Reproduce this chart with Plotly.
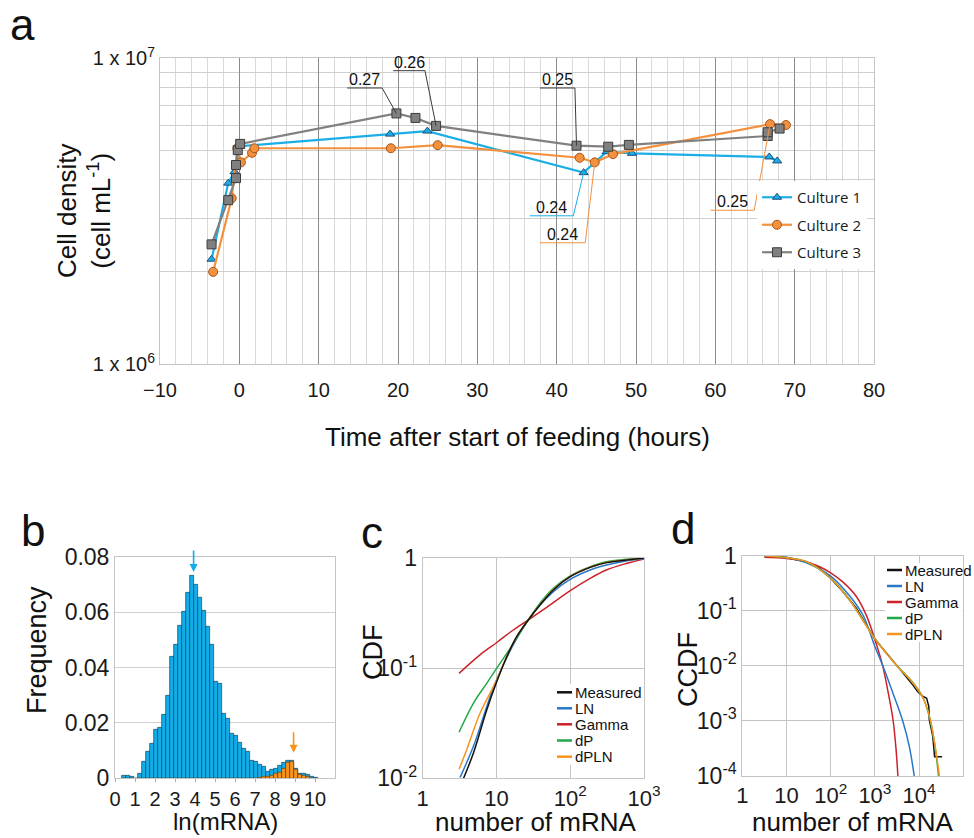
import numpy as np
import plotly.graph_objects as go

FONT = "Liberation Sans"
W, H = 974, 838

# ---------------- Panel a data ----------------
c1_t = [-3.5, -1.4, -0.6, 0.1, 19.0, 23.7, 43.4, 46.3, 49.5, 66.8, 67.8]
c1_v = [2.20e6, 3.90e6, 4.25e6, 5.15e6, 5.64e6, 5.77e6, 4.22e6, 4.94e6, 4.88e6, 4.75e6, 4.61e6]

c2_t = [-3.3, -0.96, -0.25, 0.2, 1.6, 1.9, 19.1, 25.0, 42.9, 44.8, 47.1, 66.9, 68.9]
c2_v = [2.00e6, 3.48e6, 5.07e6, 4.56e6, 4.90e6, 5.07e6, 5.07e6, 5.19e6, 4.72e6, 4.56e6, 4.85e6, 6.08e6, 6.04e6]

c3_t = [-3.5, -1.4, -0.42, -0.42, -0.2, 0.1, 19.8, 22.2, 24.8, 42.5, 46.5, 49.1, 66.6, 66.6, 68.1]
c3_v = [2.46e6, 3.43e6, 4.05e6, 4.47e6, 5.00e6, 5.24e6, 6.59e6, 6.37e6, 6.00e6, 5.17e6, 5.13e6, 5.20e6, 5.56e6, 5.72e6, 5.88e6]

# callouts: label, series, point index, underline left t, underline right t, underline value, colour
callouts = [
    ("0.27", "c3", 6, 13.6, 18.0, 7.98e6, "#3a3a3a"),
    ("0.26", "c3", 8, 19.4, 23.4, 9.09e6, "#3a3a3a"),
    ("0.25", "c3", 9, 37.9, 42.3, 7.98e6, "#3a3a3a"),
    ("0.24", "c1", 6, 36.6, 42.1, 3.05e6, "#1BAEE6"),
    ("0.24", "c2", 9, 37.9, 43.6, 2.49e6, "#F4913E"),
    ("0.25", "c2", 11, 59.4, 64.9, 3.18e6, "#F4913E"),
]

# ---------------- Panel b data ----------------
ln_bins = [0.47, 0.67, 0.87, 1.07, 1.27, 1.47, 1.67, 1.87, 2.07, 2.27,
           2.47, 2.67, 2.87, 3.07, 3.27, 3.47, 3.67, 3.87, 4.07, 4.27,
           4.47, 4.67, 4.87, 5.07, 5.27, 5.47, 5.67, 5.87, 6.07, 6.27,
           6.47, 6.67, 6.87, 7.07, 7.27, 7.47, 7.67, 7.87, 8.07, 8.27,
           8.47, 8.67, 8.87, 9.07, 9.27, 9.47, 9.67, 9.87, 10.07]
freq_all = [0.0011, 0.0010, 0.0006, 0.0, 0.0015, 0.0061, 0.0096, 0.0124, 0.0175, 0.0184,
            0.0228, 0.0300, 0.0439, 0.0481, 0.0550, 0.0601, 0.0669, 0.0731, 0.0700, 0.0651,
            0.0606, 0.0548, 0.0482, 0.0348, 0.0342, 0.0234, 0.0214, 0.0160, 0.0155, 0.0130,
            0.0108, 0.0097, 0.0065, 0.0060, 0.0050, 0.0042, 0.0024, 0.0032, 0.0035, 0.0046,
            0.0055, 0.0063, 0.0064, 0.0036, 0.0017, 0.0015, 0.0012, 0.0006, 0.0003]
freq_high = [0, 0, 0, 0, 0, 0, 0, 0, 0, 0,
             0, 0, 0, 0, 0, 0, 0, 0, 0, 0,
             0, 0, 0, 0, 0, 0, 0, 0, 0, 0,
             0, 0, 0, 0, 0.0002, 0.0004, 0.0006, 0.0010, 0.0016, 0.0020,
             0.0036, 0.0055, 0.0060, 0.0030, 0.0012, 0.0010, 0.0004, 0, 0]

# ---------------- Panel c data (CDF) ----------------
c_meas_x = [3.48, 4.86, 7.38, 10.1, 13.8, 18.8, 27.0, 38.9, 59.0, 100, 186, 309, 589, 1000]
c_meas_y = [0.00955, 0.0169, 0.0417, 0.0755, 0.127, 0.193, 0.2735, 0.374, 0.513, 0.676, 0.822, 0.908, 0.959, 1.0]
c_ln_x = [3.21, 4.86, 10.1, 26.9, 59.0, 100, 186, 309, 589, 1000]
c_ln_y = [0.0102, 0.0194, 0.0794, 0.2735, 0.494, 0.640, 0.778, 0.863, 0.946, 0.986]
c_gam_x = [3.11, 5.98, 10.1, 16.9, 26.9, 47.9, 100, 186, 309, 589, 1000]
c_gam_y = [0.0897, 0.132, 0.171, 0.222, 0.2735, 0.356, 0.505, 0.653, 0.778, 0.895, 0.98]
c_dp_x = [3.11, 4.86, 7.38, 10.1, 15.3, 26.9, 38.9, 59.0, 100, 186, 309, 1000]
c_dp_y = [0.0262, 0.048, 0.0728, 0.100, 0.151, 0.2735, 0.389, 0.531, 0.687, 0.834, 0.927, 1.0]
c_dpln_x = [3.11, 3.94, 5.98, 10.1, 13.8, 18.8, 27.0, 38.9, 59.0, 100, 186, 309, 589, 1000]
c_dpln_y = [0.0121, 0.0181, 0.0389, 0.0782, 0.128, 0.193, 0.2735, 0.376, 0.517, 0.680, 0.825, 0.910, 0.960, 1.0]

# ---------------- Panel d data (CCDF) ----------------
d_meas_x = [3.16, 10, 28.2, 56.2, 100, 190, 380, 1000, 2140, 4270, 7240, 9330, 12000, 14800,
            16600, 17000, 18600, 20400, 22400, 33100]
d_meas_y = [0.986, 0.92, 0.778, 0.589, 0.389, 0.222, 0.111, 0.0303, 0.0147, 0.00759, 0.00447,
            0.00339, 0.00282, 0.00257, 0.00182, 0.00105, 0.00074, 0.000525, 0.000224, 0.000224]
d_ln_x = [3.16, 10, 28.2, 100, 269, 537, 1000, 1510, 2570, 4270, 6030, 7760]
d_ln_y = [1.0, 0.933, 0.746, 0.427, 0.186, 0.0838, 0.0224, 0.0100, 0.00316, 0.0010, 0.000339, 0.0001]
d_gam_x = [3.16, 10, 20, 33.9, 56.2, 100, 190, 380, 631, 1000, 1510, 1950, 2570, 3020, 3310]
d_gam_y = [0.933, 0.891, 0.822, 0.741, 0.631, 0.49, 0.331, 0.182, 0.0851, 0.0302, 0.00977,
           0.00363, 0.00105, 0.000295, 0.0001]
d_dp_x = [3.16, 10, 28.2, 100, 269, 1000, 3020, 7240, 12000, 17000, 22400, 27500]
d_dp_y = [1.0, 0.92, 0.778, 0.389, 0.157, 0.0316, 0.0105, 0.00501, 0.00275, 0.0012, 0.000389, 0.0001]
d_dpln_x = [3.16, 10, 28.2, 100, 269, 1000, 3020, 7240, 12000, 17000, 22400, 28800]
d_dpln_y = [0.995, 0.92, 0.78, 0.39, 0.155, 0.031, 0.0104, 0.0049, 0.0027, 0.00125, 0.0004, 0.0001]

dist_names = ["Measured", "LN", "Gamma", "dP", "dPLN"]
dist_colors = ["#111111", "#2878C8", "#CC2229", "#22A84A", "#F7941D"]

# ---------------- figure ----------------
fig = go.Figure()

series = {"c1": (c1_t, c1_v), "c2": (c2_t, c2_v), "c3": (c3_t, c3_v)}
styles = {
    "c1": dict(name="Culture 1", color="#1BAEE6", symbol="triangle-up", mline="#1F4E79", size=8),
    "c2": dict(name="Culture 2", color="#F4913E", symbol="circle", mline="#A8541A", size=9),
    "c3": dict(name="Culture 3", color="#808080", symbol="square", mline="#3c3c3c", size=9),
}
for key in ["c1", "c2", "c3"]:
    t, v = series[key]
    s = styles[key]
    fig.add_trace(go.Scatter(
        x=t, y=v, mode="lines+markers", name=s["name"], legendgroup=key,
        line=dict(color=s["color"], width=2.2),
        marker=dict(symbol=s["symbol"], size=s["size"], color=s["color"],
                    line=dict(color=s["mline"], width=1)),
        xaxis="x", yaxis="y"))

# callouts (underline + leader to the data point)
for label, key, idx, tl, tr, uv, col in callouts:
    t, v = series[key]
    fig.add_trace(go.Scatter(
        x=[tl, tr, t[idx]], y=[uv, uv, v[idx]], mode="lines",
        line=dict(color=col, width=1), showlegend=False, hoverinfo="skip",
        xaxis="x", yaxis="y"))

# panel b histogram
fig.add_trace(go.Bar(x=ln_bins, y=freq_all, width=0.2, marker=dict(color="#12ADE8",
                     line=dict(color="#1d4560", width=0.7)), showlegend=False,
                     xaxis="x2", yaxis="y2"))
fig.add_trace(go.Bar(x=ln_bins, y=freq_high, width=0.2, marker=dict(color="#F7931E",
                     line=dict(color="#6a4010", width=0.7)), showlegend=False,
                     xaxis="x2", yaxis="y2"))

# panel c
c_sets = [(c_meas_x, c_meas_y), (c_ln_x, c_ln_y), (c_gam_x, c_gam_y), (c_dp_x, c_dp_y), (c_dpln_x, c_dpln_y)]
for i in [2, 1, 3, 4, 0]:
    xs, ys = c_sets[i]
    fig.add_trace(go.Scatter(x=xs, y=ys, mode="lines", line=dict(color=dist_colors[i], width=1.5, shape="spline"),
                             showlegend=False, xaxis="x3", yaxis="y3"))
# panel d
d_sets = [(d_meas_x, d_meas_y), (d_ln_x, d_ln_y), (d_gam_x, d_gam_y), (d_dp_x, d_dp_y), (d_dpln_x, d_dpln_y)]
for i in [0, 2, 1, 3, 4]:
    xs, ys = d_sets[i]
    fig.add_trace(go.Scatter(x=xs, y=ys, mode="lines",
                             line=dict(color=dist_colors[i], width=1.5, shape="linear" if i == 0 else "spline"),
                             showlegend=False, xaxis="x4", yaxis="y4"))


def px(x):
    return x / W


def py(y):
    return 1 - y / H


tickfont_a = dict(family=FONT, size=20, color="#1a1a1a")
tickfont = dict(family=FONT, size=23, color="#1a1a1a")
tickfont_x = dict(family=FONT, size=22, color="#1a1a1a")
frame = dict(showline=True, linecolor="#c4c4c4", linewidth=1, mirror=True, zeroline=False,
             automargin=False)

fig.update_layout(
    width=W, height=H, margin=dict(l=0, r=0, t=0, b=0, pad=0, autoexpand=False),
    paper_bgcolor="white", plot_bgcolor="white", barmode="overlay", bargap=0,
    font=dict(family=FONT, color="#111"),
    showlegend=True,
    legend=dict(x=px(757), y=py(181), xanchor="left", yanchor="top", bgcolor="white",
                font=dict(family="Open Sans", size=15, color="#1a1a1a"),
                traceorder="grouped", tracegroupgap=5, itemwidth=30),
    xaxis=dict(domain=[px(160), px(874)], range=[-10, 80], anchor="y",
               tickmode="linear", tick0=-10, dtick=10, ticks="", tickfont=tickfont_a,
               ticklabelstandoff=8,
               showgrid=True, gridcolor="#8a8a8a", gridwidth=1,
               minor=dict(dtick=2, showgrid=True, gridcolor="#d9d9d9", gridwidth=1), **frame),
    yaxis=dict(domain=[py(364), py(58)], type="log", range=[6, 7], anchor="x",
               tickvals=[1e6, 1e7], ticktext=["1 x 10<sup>6</sup>", "1 x 10<sup>7</sup>"],
               ticks="", tickfont=tickfont_a, showgrid=True, gridcolor="#cfcfcf",
               minor=dict(tickvals=[2e6, 3e6, 4e6, 5e6, 6e6, 7e6, 8e6, 9e6], showgrid=True,
                          gridcolor="#cfcfcf", gridwidth=1), **frame),
    xaxis2=dict(domain=[px(115), px(335)], range=[0, 11], anchor="y2", tickangle=0,
                tickvals=list(range(11)), ticks="outside", ticklen=3, tickcolor="#aaaaaa",
                tickfont=dict(family=FONT, size=20, color="#1a1a1a"), showgrid=False, **frame),
    yaxis2=dict(domain=[py(778.3), py(556.7)], range=[0, 0.08], anchor="x2",
                tickvals=[0, 0.02, 0.04, 0.06, 0.08], ticktext=["0", "0.02", "0.04", "0.06", "0.08"],
                ticks="", tickfont=tickfont, showgrid=True, gridcolor="#d0d0d0", **frame),
    xaxis3=dict(domain=[px(422.7), px(644)], type="log", range=[0, 3], anchor="y3", tickangle=0,
                tickvals=[1, 10, 100, 1000], ticktext=["1", "10", "10<sup>2</sup>", "10<sup>3</sup>"],
                ticks="", tickfont=tickfont_x, showgrid=True, gridcolor="#c4c4c4", **frame),
    yaxis3=dict(domain=[py(778.3), py(558)], type="log", range=[-2, 0], anchor="x3",
                tickvals=[0.01, 0.1, 1], ticktext=["10<sup>-2</sup>", "10<sup>-1</sup>", "1"],
                ticks="", tickfont=tickfont, showgrid=True, gridcolor="#c4c4c4", **frame),
    xaxis4=dict(domain=[px(742.3), px(963.3)], type="log", range=[0, 5], anchor="y4", tickangle=0,
                tickvals=[1, 10, 100, 1000, 10000],
                ticktext=["1", "10", "10<sup>2</sup>", "10<sup>3</sup>", "10<sup>4</sup>"],
                ticks="", tickfont=tickfont_x, showgrid=True, gridcolor="#c4c4c4", **frame),
    yaxis4=dict(domain=[py(776), py(555.7)], type="log", range=[-4, 0], anchor="x4",
                tickvals=[1e-4, 1e-3, 1e-2, 1e-1, 1],
                ticktext=["10<sup>-4</sup>", "10<sup>-3</sup>", "10<sup>-2</sup>", "10<sup>-1</sup>", "1"],
                ticks="", tickfont=tickfont, showgrid=True, gridcolor="#c4c4c4", **frame),
)


def note(text, x, y, size, angle=0, xanchor="center"):
    return dict(text=text, x=px(x), y=py(y), xref="paper", yref="paper", xanchor=xanchor,
                yanchor="middle", showarrow=False, textangle=angle,
                font=dict(family=FONT, size=size, color="#111"))


ann = []
for letter, x, y in [("a", 22, 24), ("b", 33, 530), ("c", 372, 532), ("d", 683, 528)]:
    ann.append(note(letter, x, y, 44))
ann += [
    note("Time after start of feeding (hours)", 517, 437, 26),
    note("Cell density<br>(cell mL<sup>-1</sup>)", 84, 211, 26, angle=-90),
    note("Frequency", 37, 650, 27, angle=-90),
    note("ln(mRNA)", 225, 821, 24),
    note("CDF", 373, 652, 27, angle=-90),
    note("number of mRNA", 535, 822, 26),
    note("CCDF", 688, 670, 27, angle=-90),
    note("number of mRNA", 852, 822, 26),
]
for label, key, idx, tl, tr, uv, col in callouts:
    ann.append(dict(text=label, x=(tl + tr) / 2, y=np.log10(uv), xref="x", yref="y",
                    xanchor="center", yanchor="bottom", showarrow=False, yshift=-2,
                    font=dict(family=FONT, size=16, color="#111")))
ann.append(dict(x=3.93, y=0.0745, xref="x2", yref="y2", ax=0, ay=-23, showarrow=True,
                arrowhead=2, arrowsize=1, arrowwidth=1.6, arrowcolor="#12ADE8", text=""))
ann.append(dict(x=8.93, y=0.0092, xref="x2", yref="y2", ax=0, ay=-22, showarrow=True,
                arrowhead=2, arrowsize=1, arrowwidth=1.6, arrowcolor="#F7931E", text=""))

shapes = []
legends = [
    (557, 573, [692.3, 708.3, 724.3, 740.5, 756.7], (555, 643, 684, 765)),
    (887, 902.5, [570, 586, 602, 618, 634], (885, 962.5, 563, 642)),
]
for lx0, tx, rows, box in legends:
    shapes.append(dict(type="rect", xref="paper", yref="paper",
                       x0=px(box[0]), x1=px(box[1]), y0=py(box[3]), y1=py(box[2]),
                       fillcolor="white", line=dict(width=0), layer="above"))
    for name, col, ry in zip(dist_names, dist_colors, rows):
        shapes.append(dict(type="line", xref="paper", yref="paper", x0=px(lx0), x1=px(lx0 + 15),
                           y0=py(ry), y1=py(ry), line=dict(color=col, width=2.5), layer="above"))
        ann.append(note(name, tx, ry, 15, xanchor="left"))

fig.update_layout(annotations=ann, shapes=shapes)
fig.write_html("out.html")
